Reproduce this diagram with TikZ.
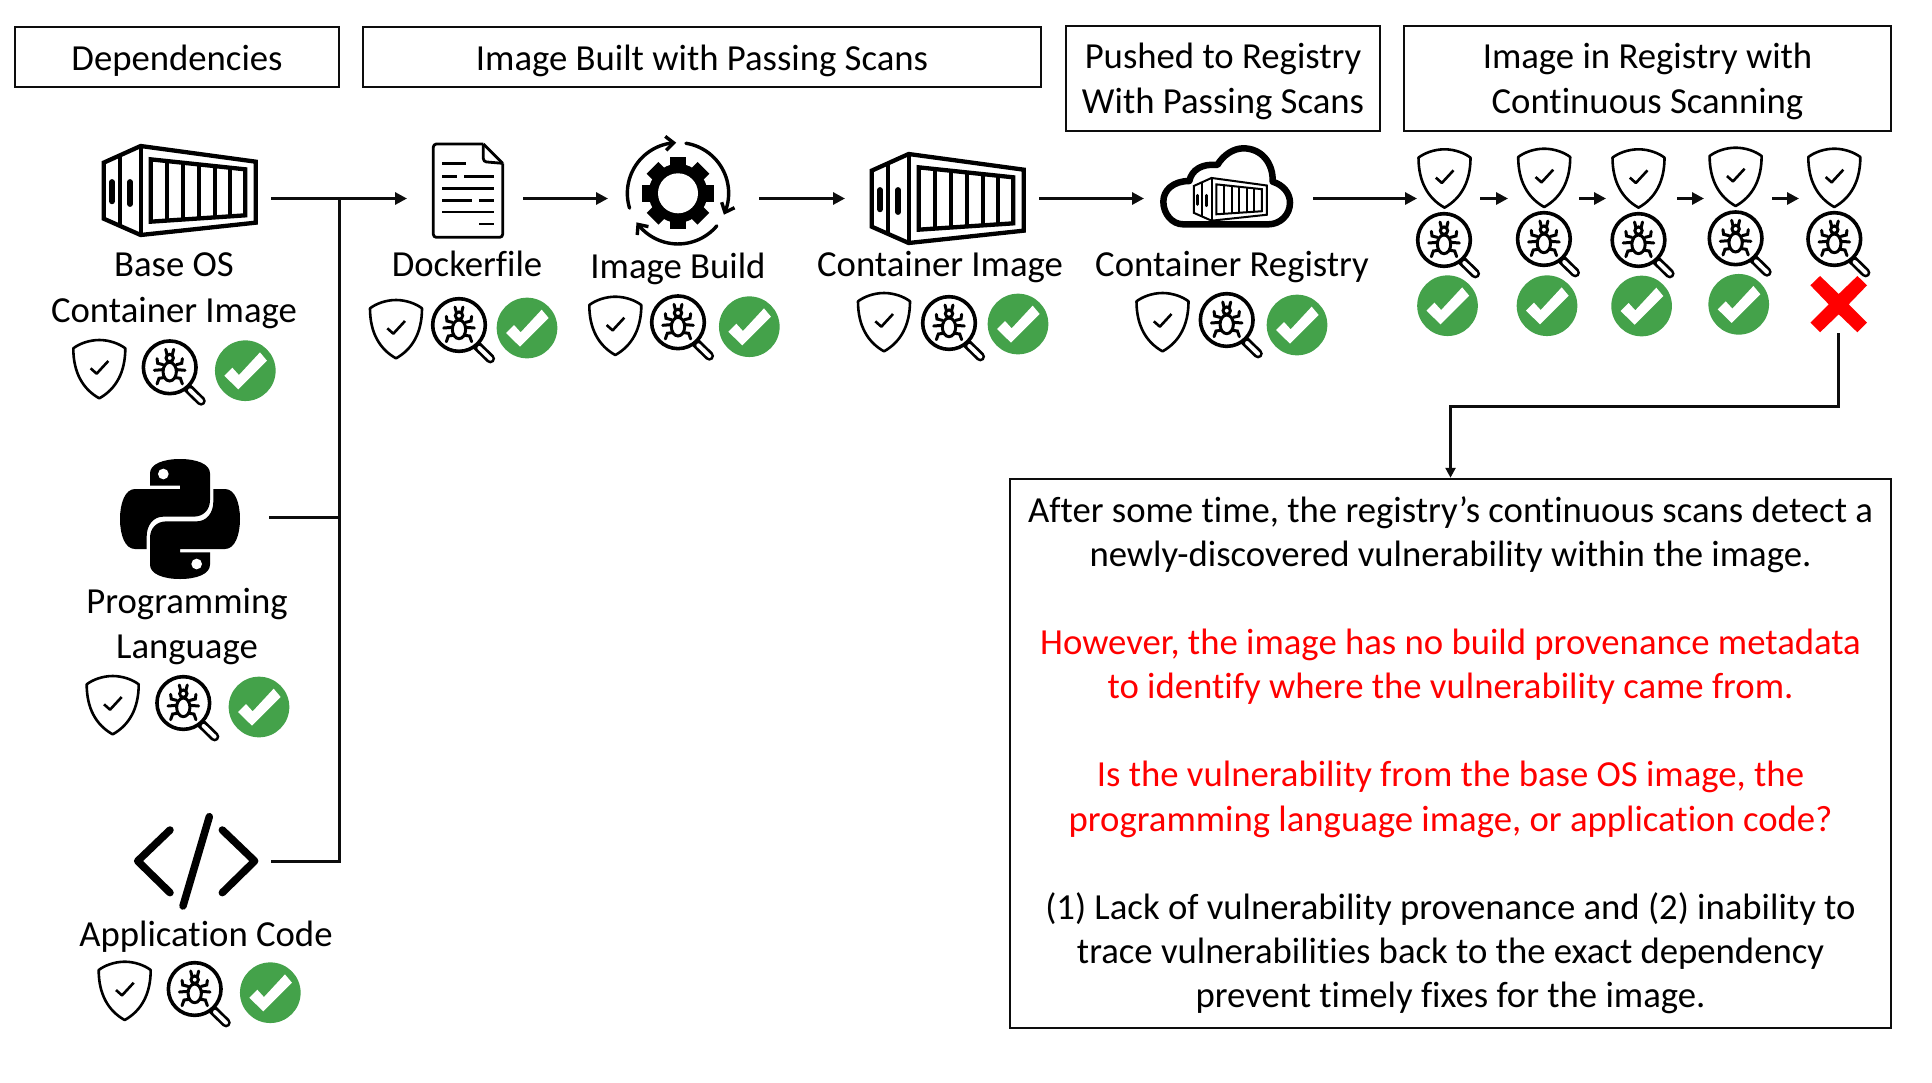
\documentclass[tikz,border=0pt]{standalone}
\usepackage{fontspec}
\setmainfont[Ligatures=NoCommon]{Carlito}
\usetikzlibrary{arrows.meta}
\newdimen\PX \PX=0.02cm
\definecolor{okgreen}{HTML}{44A24A}
\definecolor{alertred}{HTML}{FF0000}
\definecolor{inkline}{HTML}{0D0D0D}
\newcommand{\snakeshape}{%
    \fill (150,137) -- (240,137) -- (240,147) -- (105,147)
      .. controls (75,147) and (60,190) .. (60,237)
      .. controls (60,285) and (75,327) .. (105,327) -- (140,327) -- (140,290)
      .. controls (140,255) and (160,230) .. (190,230) -- (280,230)
      .. controls (310,230) and (330,210) .. (330,180) -- (330,100)
      .. controls (330,72) and (290,57) .. (240,57)
      .. controls (190,57) and (150,72) .. (150,100) -- cycle;
    \fill[white] (190,102) circle[radius=16];}
\newcommand{\headlift}{\rule{0pt}{19.2pt}}
\newcommand{\pairlift}{\rule{0pt}{17.8pt}}
\newcommand{\notelift}{\rule{0pt}{16.6pt}}
\tikzset{
  labeltext/.style={font=\fontsize{20.9}{25.2}\selectfont, align=center, inner sep=0pt, anchor=base, text=black},
  framebox/.style={draw=inkline, line width=2.5\PX, font=\fontsize{20.9}{25.1}\selectfont, align=center, inner sep=0pt, text=black},
  iconspot/.style={inner sep=0pt, outer sep=0pt, minimum height=50\PX},
  wire/.style={draw=inkline, line width=3\PX},
  flow/.style={wire, -{Triangle[length=0.24cm,width=0.24cm]}, shorten >=0pt},
  pics/cargo/.style n args={2}{code={
    \begin{scope}[scale=#1/3, shift={(-127,-73)}, line width=#2\PX, join=miter]
      \draw[fill=white] (132,129) -- (243,79) -- (588,126) -- (588,309) -- (243,346) -- (132,297) -- cycle;
      \draw (243,79) -- (243,346) (181,102) -- (181,323);
      \draw (273,119) -- (557,149) -- (557,287) -- (273,306) -- cycle;
      \foreach \xb/\ya/\yb in {322/124/302, 370/130/298, 417/135/295, 465/140/292, 510/145/289} \draw (\xb,\ya) -- (\xb,\yb);
      \draw[line cap=round, line width=1.35*#2\PX] (157,187) -- (157,245) (211,187) -- (211,253);
    \end{scope}}},
  pics/shieldicon/.style={code={
    \begin{scope}[scale=1/3, line width=2.6\PX, line join=round]
      \draw (0,3) .. controls (-30,3) and (-60,14) .. (-78,28)
        .. controls (-78,100) and (-50,150) .. (0,178)
        .. controls (50,150) and (78,100) .. (78,28)
        .. controls (60,14) and (30,3) .. (0,3) -- cycle;
      \draw (-26,88) -- (-8,104) -- (27,66);
    \end{scope}}},
  pics/lensicon/.style={code={
    \begin{scope}[scale=1/3]
      \draw[line width=9.5\PX, line cap=round] (52,60) -- (94,101);
      \draw[white, line width=4\PX, line cap=round] (61,69) -- (94,101);
      \draw[line width=3.6\PX, fill=white] (0,0) circle[radius=79];
      \begin{scope}[line width=3\PX, line cap=round]
        \draw (0,13) ellipse[x radius=20, y radius=28];
        \draw (0,-28) circle[radius=11];
        \draw (-8,-38) -- (-12,-54) (8,-38) -- (12,-54);
        \draw (-20,-8) -- (-36,-12) -- (-38,-26) (20,-8) -- (36,-12) -- (38,-26);
        \draw (-46,9) -- (-21,7) (46,9) -- (21,7);
        \draw (-18,31) -- (-32,33) -- (-38,50) (18,31) -- (32,33) -- (38,50);
      \end{scope}
    \end{scope}}},
  pics/passmark/.style={code={
    \begin{scope}[scale=1/3]
      \fill[okgreen] (0,0) circle[radius=91];
      \fill[white] (-63,15) -- (-39,-9) -- (-19,13) -- (44,-55) -- (65,-30) -- (-21,56) -- cycle;
    \end{scope}}},
  pics/failmark/.style={code={
    \begin{scope}[scale=1/3, shift={(-176,-103)}]
      \fill[alertred] (120,18) -- (176,72) -- (232,18) -- (261,46) -- (206,103) -- (261,158) -- (232,187) -- (176,133) -- (120,187) -- (91,158) -- (146,103) -- (91,46) -- cycle;
    \end{scope}}},
  pics/docfile/.style={code={
    \begin{scope}[scale=1/3, line width=2.8\PX]
      \draw[rounded corners=3\PX, line join=round] (250,72) -- (100,72) -- (100,352) -- (308,352) -- (308,130);
      \draw[line join=round] (250,72) -- (308,130);
      \draw[rounded corners=3\PX, line join=round] (250,72) -- (250,125) -- (308,130);
      \draw (127,130) -- (198,130)
        (127,170) -- (172,170) (192,170) -- (282,170)
        (127,206) -- (282,206)
        (127,241) -- (217,241) (237,241) -- (282,241)
        (127,276) -- (282,276)
        (237,312) -- (282,312);
    \end{scope}}},
  pics/gearcycle/.style={code={
    \begin{scope}[scale=1/3]
      \fill (0,0) circle[radius=88];
      \foreach \ang in {0,45,...,315} {
        \begin{scope}[rotate=\ang]
          \fill (80,-25) rectangle (108,25);
        \end{scope}}
      \fill[white] (0,0) circle[radius=60];
      \begin{scope}[line width=3.4\PX, line cap=round]
        \draw[-{Straight Barb[length=0.16cm,width=0.28cm]}] plot[domain=163:268, samples=30] ({152*cos(\x)},{152*sin(\x)});
        \draw[-{Straight Barb[length=0.16cm,width=0.28cm]}] plot[domain=279:385, samples=30] ({152*cos(\x)},{152*sin(\x)});
        \draw[-{Straight Barb[length=0.16cm,width=0.28cm]}] plot[domain=40:145, samples=30] ({152*cos(\x)},{152*sin(\x)});
      \end{scope}
    \end{scope}}},
  pics/pylogo/.style={code={
    \begin{scope}[scale=1/3]
      \snakeshape
      \begin{scope}[shift={(480,474)}, rotate=180]
        \snakeshape
      \end{scope}
    \end{scope}}},
  pics/codelogo/.style={code={
    \begin{scope}[scale=1/3, line width=7.5\PX, line cap=round, line join=round]
      \draw (180,90) -- (83,183) -- (180,278);
      \draw (337,90) -- (434,183) -- (337,278);
      \draw (298,50) -- (219,318);
    \end{scope}}},
  pics/cloudlogo/.style={code={
    \begin{scope}[scale=1/3]
      \draw[line width=6.5\PX, line join=round] (160,283)
        .. controls (125,283) and (100,250) .. (100,215)
        .. controls (100,180) and (130,153) .. (178,153)
        .. controls (185,120) and (215,100) .. (262,105)
        .. controls (280,75) and (310,55) .. (340,55)
        .. controls (395,55) and (430,100) .. (428,155)
        .. controls (460,165) and (480,190) .. (480,218)
        .. controls (480,255) and (450,283) .. (415,283) -- cycle;
    \end{scope}}},
}
\newcommand{\trio}[6]{%
  \pic at (#1,#2) {shieldicon};
  \pic at (#3,#4) {lensicon};
  \pic at (#5,#6) {passmark};}
\newcommand{\spot}[4]{%
  \node[iconspot, minimum width={(#3-#2)*\PX}] (#1) at ({(#2+#3)/2},#4) {};}
\begin{document}
\begin{tikzpicture}[x=0.02cm,y=-0.02cm]
\useasboundingbox (0,0) rectangle (1932,1082);
\fill[white] (0,0) rectangle (1932,1082);

% header boxes
\node[framebox, minimum width=324\PX, minimum height=60\PX] (hdep) at (177,57) {\headlift Dependencies};
\node[framebox, minimum width=678\PX, minimum height=60\PX] (hbuilt) at (702,57) {\headlift Image Built with Passing Scans};
\node[framebox, minimum width=314\PX, minimum height=105\PX] (hpush) at (1223,78.5) {\pairlift Pushed to Registry\\With Passing Scans};
\node[framebox, minimum width=487\PX, minimum height=105\PX] (hscan) at (1647.5,78.5) {\pairlift Image in Registry with\\Continuous Scanning};

% note
\node[framebox, minimum width=881\PX, minimum height=549\PX] (note) at (1450.5,753.5) {%
\notelift After some time, the registry’s continuous scans detect a\\
newly-discovered vulnerability within the image.\\[25.1pt]
\textcolor{alertred}{However, the image has no build provenance metadata}\\
\textcolor{alertred}{to identify where the vulnerability came from.}\\[25.1pt]
\textcolor{alertred}{Is the vulnerability from the base OS image, the}\\
\textcolor{alertred}{programming language image, or application code?}\\[25.1pt]
(1) Lack of vulnerability provenance and (2) inability to\\
trace vulnerabilities back to the exact dependency\\
prevent timely fixes for the image.};

% invisible icon anchors
\spot{baseimg}{90}{271}{198.5}
\spot{pylang}{110}{269}{517}
\spot{appcode}{130}{271}{861}
\spot{dockerf}{407}{523}{198.5}
\spot{imgbuild}{608}{759}{198.5}
\spot{contimg}{845}{1039}{198.5}
\spot{contreg}{1144}{1313}{198.5}
\spot{scanA}{1417}{1480}{198.5}
\spot{scanB}{1508}{1579}{198.5}
\spot{scanC}{1606}{1677}{198.5}
\spot{scanD}{1704}{1772}{198.5}
\spot{scanE}{1799}{1870}{198.5}
\node[iconspot, minimum width=56\PX, minimum height=57.4\PX] (xmark) at (1838.7,304.3) {};
\coordinate (jbase) at (339,198.5);
\coordinate (jpy) at (339,517);
\coordinate (bend) at (1450.5,406);

% icons
\pic at (102,144) {cargo={1}{4.3}};
\pic at (870,152) {cargo={1}{4.3}};
\pic at (1130,130) {cloudlogo};
\pic at (1193,177) {cargo={0.48}{2}};
\pic at (400,120) {docfile};
\pic at (678,193.3) {gearcycle};
\pic at (100,440) {pylogo};
\pic at (110,800) {codelogo};

% checks
\trio{99.3}{339}{169.7}{367.3}{245.3}{370.7}
\trio{112.7}{675}{183.3}{703}{259}{707}
\trio{124.7}{960.7}{194.7}{989}{270.3}{992.7}
\trio{396}{299}{459}{325}{527}{328}
\trio{615.3}{295.7}{678}{322.3}{749.3}{326.7}
\trio{884}{292}{949}{323}{1018}{324}
\trio{1162.5}{292}{1226.7}{320}{1297}{325}
\trio{1444.5}{148.3}{1444}{240}{1447.5}{305.7}
\trio{1544.2}{147.7}{1543.9}{239}{1547}{305.7}
\trio{1638.5}{148.3}{1638.5}{240}{1641.6}{306}
\trio{1735.6}{146.7}{1735.6}{238.3}{1738.7}{304.3}
\pic at (1834.3,147.7) {shieldicon};
\pic at (1834.3,239) {lensicon};
\pic at (1838.7,304.3) {failmark};

% labels
\node[labeltext] (lbase) at (174,276.5) {Base OS};
\node[labeltext] (lbaseb) at (174,322) {Container Image};
\node[labeltext] (lpy) at (187,613.5) {Programming};
\node[labeltext] (lpyb) at (187,658.5) {Language};
\node[labeltext] (lcode) at (206,946.5) {Application Code};
\node[labeltext] (ldock) at (467,276.5) {Dockerfile};
\node[labeltext] (lbuild) at (678,278.5) {Image Build};
\node[labeltext] (lcimg) at (940,276.5) {Container Image};
\node[labeltext] (lcreg) at (1232,276.5) {Container Registry};

% connectors
\draw[flow] (baseimg.east) -- (dockerf.west);
\draw[flow] (dockerf.east) -- (imgbuild.west);
\draw[flow] (imgbuild.east) -- (contimg.west);
\draw[flow] (contimg.east) -- (contreg.west);
\draw[flow] (contreg.east) -- (scanA.west);
\draw[flow] (scanA.east) -- (scanB.west);
\draw[flow] (scanB.east) -- (scanC.west);
\draw[flow] (scanC.east) -- (scanD.west);
\draw[flow] (scanD.east) -- (scanE.west);
\draw[wire] (pylang.east) -- (jpy);
\draw[wire] (appcode.east) -| (jbase);
\draw[flow, -{Triangle[length=0.2cm,width=0.2cm]}] (xmark.south) |- (bend) -- (note.north);
\end{tikzpicture}
\end{document}
